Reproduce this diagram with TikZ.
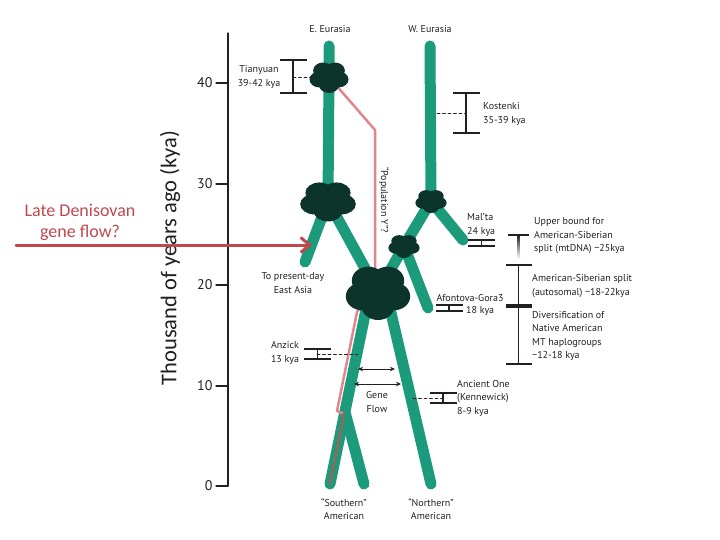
\documentclass[tikz,border=0pt]{standalone}
\usepackage{fontspec}
\setmainfont{PT Sans}
\newfontfamily\slidefont{Carlito}
\usepackage{tikz}
\usetikzlibrary{arrows.meta}
\usepackage{xcolor}
\definecolor{branch}{RGB}{27,154,124}
\definecolor{blobgreen}{RGB}{12,52,42}
\definecolor{popy}{RGB}{224,134,142}
\definecolor{popyover}{RGB}{118,116,98}
\definecolor{deni}{RGB}{190,72,78}
\definecolor{ink}{RGB}{35,31,32}
\newcommand{\blob}[3]{\fill[blobgreen,shift={(#1)},xscale=#2,yscale=#3] (0,0) circle (0.62) (90:0.5) circle (0.5) (162:0.5) circle (0.5) (234:0.5) circle (0.5) (306:0.5) circle (0.5) (18:0.5) circle (0.5);}
\newcommand{\kyabar}[3]{\draw[errbar] (#1-13.5,#2) -- (#1+13.5,#2) (#1-13.5,#3) -- (#1+13.5,#3) (#1,#2) -- (#1,#3);}

\begin{document}
\begin{tikzpicture}[x=1pt,y=-1pt,>={Stealth[length=5pt,width=4.5pt]},font=\fontsize{10}{13.5}\selectfont,line cap=round,
  stem/.style={branch,line width=11pt,line cap=round},
  errbar/.style={ink,line width=1.1pt,line cap=butt},
  leader/.style={ink,line width=0.9pt,dash pattern=on 3pt off 2.5pt},
  lbl/.style={align=center,inner sep=0pt,text=ink},
  tick/.style={inner sep=0pt,text=ink,font=\fontsize{14}{16}\selectfont}]
\useasboundingbox (0,0) rectangle (720,540);
\coordinate (etop) at (329,46);
\coordinate (wtop) at (430,46);
\coordinate (tianblob) at (329,77);
\coordinate (eblob) at (328,201);
\coordinate (wblob) at (431,201);
\coordinate (mblob) at (404,246);
\coordinate (bigblob) at (378,292);
\coordinate (asiaend) at (305,262);
\coordinate (maltaend) at (463,240);
\coordinate (afonend) at (428,308);
\coordinate (sstart) at (368,300);
\coordinate (nstart) at (388,300);
\coordinate (sjunc) at (345,412);
\coordinate (swest) at (330,484);
\coordinate (seast) at (364,484);
\coordinate (nend) at (431,484);
\draw[ink,line width=1.2pt] (228,33) -- (228,486);
\draw[ink,line width=1.2pt] (228,83) -- (216,83) node[left=3pt,tick] (t40) {40};
\draw[ink,line width=1.2pt] (228,184) -- (216,184) node[left=3pt,tick] (t30) {30};
\draw[ink,line width=1.2pt] (228,285) -- (216,285) node[left=3pt,tick] (t20) {20};
\draw[ink,line width=1.2pt] (228,386) -- (216,386) node[left=3pt,tick] (t10) {10};
\draw[ink,line width=1.2pt] (228,486) -- (216,486) node[left=3pt,tick] (t0) {0};
\node[rotate=90,inner sep=0pt,text=ink,font=\slidefont\fontsize{22.5}{26}\selectfont] (yaxis) at (170,258) {Thousand of years ago (kya)};
\node[lbl] (eeur) at (330,29) {E. Eurasia};
\node[lbl] (weur) at (430,29) {W. Eurasia};
\draw[stem] (etop) -- (tianblob) -- (eblob);
\draw[stem] (wtop) -- (wblob);
\draw[stem] (eblob) -- (asiaend);
\draw[stem] (eblob) -- (bigblob);
\draw[stem] (wblob) -- (mblob) -- (bigblob);
\draw[stem] (wblob) -- (maltaend);
\draw[stem] (mblob) -- (afonend);
\draw[stem] (sstart) -- (swest);
\draw[stem] (sjunc) -- (seast);
\draw[stem] (nstart) -- (nend);
\draw[popy,line width=2.5pt,line join=round] (tianblob) -- (375,130) -- (375,285) -- (357,312) -- (337,411) -- (344,414);
\draw[popyover,line width=3.5pt] (344,414) -- (swest);
\blob{tianblob}{20}{16}
\blob{eblob}{28.5}{20.5}
\blob{wblob}{16}{12}
\blob{mblob}{16}{12}
\blob{bigblob}{33}{28}
\node[lbl,rotate=-90] (popy) at (384,200) {\textquotedblleft Population Y\textquotedblright ?};
\node[lbl] (tian) at (259,77) {Tianyuan\\39-42 kya};
\kyabar{293}{60}{93}
\draw[leader] (293,77) -- (311,77);
\node[lbl,anchor=west,align=left] (kost) at (483,114) {Kostenki\\35-39 kya};
\kyabar{466}{93}{133}
\draw[leader] (437,113) -- (466,113);
\node[lbl,anchor=west,align=left] (malta) at (467,225) {Mal’ta\\24 kya};
\kyabar{481.5}{240}{246}
\node[lbl] (afon) at (470,298) {Afontova-Gora3};
\node[lbl,anchor=west] (afonkya) at (466,311) {18 kya};
\kyabar{449}{305}{311}
\node[lbl] (anzick) at (285,353) {Anzick\\13 kya};
\kyabar{317.5}{349}{359}
\draw[leader] (317,354) -- (358,354);
\node[lbl,anchor=west,align=left] (ancient) at (457,398) {Ancient One\\(Kennewick)\\8-9 kya};
\kyabar{443}{393}{403}
\draw[leader] (413,398) -- (443,398);
\node[lbl] (asia) at (293,283) {To present-day\\East Asia};
\node[lbl] (geneflow) at (377,402) {Gene\\Flow};
\node[lbl] (south) at (344,509) {\textquotedblleft Southern\textquotedblright\\American};
\node[lbl] (north) at (431,509) {\textquotedblleft Northern\textquotedblright\\American};
\coordinate (gf1a) at (358,369);
\coordinate (gf1b) at (395,369);
\coordinate (gf2a) at (354,384);
\coordinate (gf2b) at (401,384);
\draw[<->,ink,line width=1pt] (gf1a) -- (gf1b);
\draw[<->,ink,line width=1pt] (gf2a) -- (gf2b);
\shade[top color=ink,bottom color=white] (517.6,235) rectangle (519.4,259);
\draw[errbar] (508,235) -- (529,235);
\draw[errbar] (506,265) -- (532,265) (518.5,265) -- (518.5,364) (506,364) -- (532,364);
\draw[errbar,line width=3.5pt] (506,306) -- (532,306);
\node[lbl,anchor=west,align=left] (upper) at (534,236) {Upper bound for\\American-Siberian\\split (mtDNA) \textasciitilde 25kya};
\node[lbl,anchor=west,align=left] (autos) at (532,286) {American-Siberian split\\(autosomal) \textasciitilde 18-22kya};
\node[lbl,anchor=west,align=left] (divers) at (532,336) {Diversification of\\Native American\\MT haplogroups\\\textasciitilde 12-18 kya};
\node[align=center,inner sep=0pt,text=deni,font=\slidefont\fontsize{18}{21}\selectfont] (deniso) at (80,222) {Late Denisovan\\gene flow?};
\coordinate (denitail) at (16,245);
\coordinate (denitip) at (312,245);
\draw[deni,line width=3pt,-{Straight Barb[length=9pt,width=15pt]}] (denitail) -- (denitip);
\end{tikzpicture}
\end{document}
